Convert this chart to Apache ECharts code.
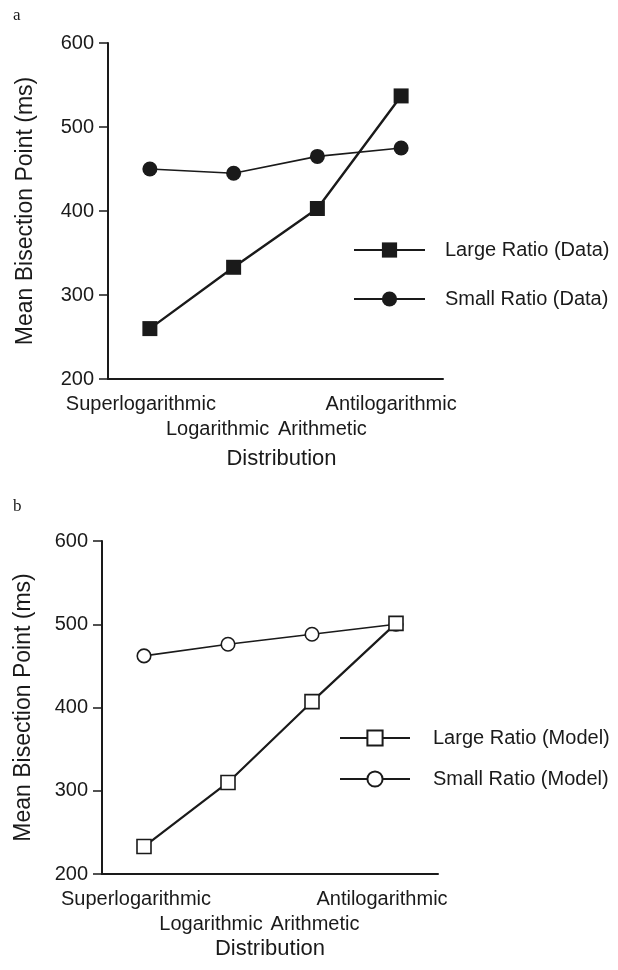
<!DOCTYPE html>
<html>
<head>
<meta charset="utf-8">
<script src="https://cdn.jsdelivr.net/npm/echarts@6/dist/echarts.min.js"></script>
<style>
html,body{margin:0;padding:0;background:#fff;}
#chart{width:618px;height:970px;}
</style>
</head>
<body>
<div id="chart"></div>
<script>
var categories = ['Superlogarithmic', 'Logarithmic', 'Arithmetic', 'Antilogarithmic'];
var largeRatioData = [260, 333, 403, 537];
var smallRatioData = [450, 445, 465, 475];
var largeRatioModel = [233, 310, 407, 501];
var smallRatioModel = [462, 476, 488, 500];
var yTicks = [200, 300, 400, 500, 600];

var FONT = '"Liberation Sans", Arial, Helvetica, sans-serif';
var INK = '#1a1a1a';

function catRich(pads) {
  var r = {};
  pads.forEach(function (p, i) {
    r['c' + i] = {fontSize: 20, fontFamily: FONT, color: INK, padding: p};
  });
  return r;
}

function xAxisCfg(gridIndex, pads, nameGap, namePad) {
  return {
    type: 'category', gridIndex: gridIndex, data: categories, boundaryGap: true,
    axisLine: {lineStyle: {color: INK, width: 2}},
    axisTick: {alignWithLabel: true, length: 8, lineStyle: {color: INK, width: 1.5}},
    axisLabel: {
      interval: 0, margin: 15,
      formatter: function (v, i) { return '{c' + i + '|' + v + '}'; },
      rich: catRich(pads)
    },
    name: 'Distribution', nameLocation: 'middle', nameGap: nameGap,
    nameTextStyle: {fontSize: 22, fontFamily: FONT, color: INK, padding: namePad}
  };
}

function yAxisCfg(gridIndex, nameGap) {
  return {
    type: 'value', gridIndex: gridIndex, min: yTicks[0], max: yTicks[yTicks.length - 1], interval: 100,
    axisLine: {show: true, lineStyle: {color: INK, width: 2}},
    axisTick: {show: true, length: 9, lineStyle: {color: INK, width: 1.5}},
    axisLabel: {fontSize: 20, fontFamily: FONT, color: INK, margin: 14},
    splitLine: {show: false},
    name: 'Mean Bisection Point (ms)', nameLocation: 'middle', nameGap: nameGap, nameRotate: 90,
    nameTextStyle: {fontSize: 23, fontFamily: FONT, color: INK}
  };
}

var option = {
  backgroundColor: '#fff',
  animation: false,
  title: [
    {text: 'a', left: 8, top: 2, textStyle: {fontSize: 17, fontWeight: 'normal', fontFamily: '"Liberation Serif", "DejaVu Serif", serif', color: INK}},
    {text: 'b', left: 8, top: 493, textStyle: {fontSize: 17, fontWeight: 'normal', fontFamily: '"Liberation Serif", "DejaVu Serif", serif', color: INK}}
  ],
  grid: [
    {left: 108, right: 175, top: 43, height: 336},
    {left: 102, right: 180, top: 541, height: 333}
  ],
  xAxis: [
    xAxisCfg(0, [[0, 18, 0, 0], [25, 32, 0, 0], [25, 0, 0, 10], [0, 20, 0, 0]], 69, [0, 0, 0, 12]),
    xAxisCfg(1, [[0, 16, 0, 0], [25, 34, 0, 0], [25, 0, 0, 6], [0, 28, 0, 0]], 64, [0, 0, 0, 0])
  ],
  yAxis: [yAxisCfg(0, 71), yAxisCfg(1, 67)],
  legend: [
    {
      orient: 'vertical', left: 348, top: 235, itemWidth: 71, itemHeight: 19, itemGap: 29,
      data: ['Large Ratio (Data)', 'Small Ratio (Data)'],
      textStyle: {fontSize: 20, fontFamily: FONT, color: INK, padding: [0, 0, 0, 15]}
    },
    {
      orient: 'vertical', left: 334, top: 723, itemWidth: 70, itemHeight: 19, itemGap: 21,
      data: ['Large Ratio (Model)', 'Small Ratio (Model)'],
      textStyle: {fontSize: 20, fontFamily: FONT, color: INK, padding: [0, 0, 0, 18]}
    }
  ],
  series: [
    {
      name: 'Small Ratio (Data)', type: 'line', xAxisIndex: 0, yAxisIndex: 0, data: smallRatioData,
      symbol: 'circle', symbolSize: 15,
      lineStyle: {color: INK, width: 1.6}, itemStyle: {color: INK, borderWidth: 0}
    },
    {
      name: 'Large Ratio (Data)', type: 'line', xAxisIndex: 0, yAxisIndex: 0, data: largeRatioData,
      symbol: 'rect', symbolSize: 15,
      lineStyle: {color: INK, width: 2.4}, itemStyle: {color: INK, borderWidth: 0}
    },
    {
      name: 'Small Ratio (Model)', type: 'line', xAxisIndex: 1, yAxisIndex: 1, data: smallRatioModel,
      symbol: 'circle', symbolSize: 13.5,
      lineStyle: {color: INK, width: 1.6}, itemStyle: {color: '#fff', borderColor: INK, borderWidth: 1.6}
    },
    {
      name: 'Large Ratio (Model)', type: 'line', xAxisIndex: 1, yAxisIndex: 1, data: largeRatioModel,
      symbol: 'rect', symbolSize: 14,
      lineStyle: {color: INK, width: 2.2}, itemStyle: {color: '#fff', borderColor: INK, borderWidth: 1.6}
    }
  ]
};

var chart = echarts.init(document.getElementById('chart'), null, {renderer: 'canvas'});
chart.setOption(option);
</script>
</body>
</html>
